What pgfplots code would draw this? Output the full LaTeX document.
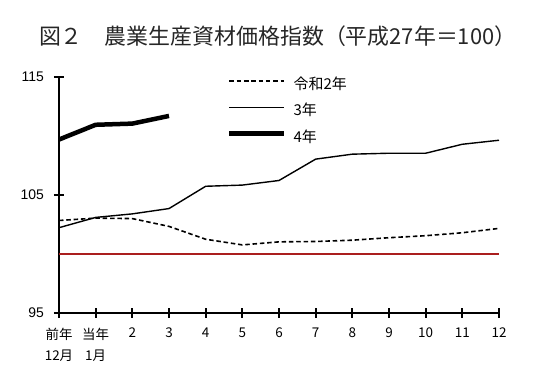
\documentclass[border=0pt]{standalone}
\usepackage{fontspec}
\setmainfont{Liberation Sans}
\newfontfamily\cjk{Noto Sans CJK JP}
\usepackage{pgfplots}
\pgfplotsset{compat=1.18}
\definecolor{refline}{RGB}{170,30,30}
\begin{document}
\begin{tikzpicture}
\useasboundingbox (0,0) rectangle (550bp,372bp);
\node[font=\cjk\fontsize{22}{26}\selectfont, text=black!85] at (277.7bp,336bp) {図２　農業生産資材価格指数（平成27年＝100）};
\begin{axis}[
  at={(59bp,59bp)}, anchor=south west,
  scale only axis, width=440bp, height=236bp,
  xmin=0, xmax=12, ymin=95, ymax=115,
  axis lines=left,
  axis line style={line width=2.8bp, black, -},
  xtick={0,...,12},
  xticklabels={{前年\\12月},{当年\\1月},2,3,4,5,6,7,8,9,10,11,12},
  ytick={95,105,115},
  major tick style={black, line width=1.8bp},
  major tick length=10bp,
  xticklabel style={font=\cjk\fontsize{13.5}{21}\selectfont, align=center, anchor=north, inner sep=0pt, yshift=-10bp},
  yticklabel style={font=\fontsize{14}{16}\selectfont, anchor=east, inner sep=0pt, xshift=-10bp},
  /pgf/number format/assume math mode=true,
  clip=false,
  legend style={draw=none, fill=none, at={(rel axis cs:0.3818,1.0)}, anchor=north west, inner sep=0pt, row sep=12bp,
    font=\cjk\fontsize{15}{17}\selectfont, nodes={inner sep=0pt},
    /tikz/every odd column/.append style={column sep=7bp}},
  legend image code/.code={\draw[#1] (0bp,0.3em) -- (55bp,0.3em);},
]
\addplot[black, line width=1.6bp, dash pattern=on 4.5bp off 2.8bp, line join=round] coordinates {
(0,102.84) (1,103.04) (2,103.0) (3,102.34) (4,101.25) (5,100.77) (6,101.03)
(7,101.06) (8,101.17) (9,101.38) (10,101.55) (11,101.8) (12,102.17)};
\addlegendentry{\makebox[50bp][l]{令和2年}}
\addplot[black, line width=1.4bp, line join=round] coordinates {
(0,102.23) (1,103.1) (2,103.4) (3,103.85) (4,105.74) (5,105.84) (6,106.23)
(7,108.04) (8,108.46) (9,108.54) (10,108.54) (11,109.3) (12,109.64)};
\addlegendentry{\makebox[50bp][l]{3年}}
\addplot[black, line width=4.5bp, line join=round] coordinates {
(0,109.7) (1,110.95) (2,111.05) (3,111.7)};
\addlegendentry{\makebox[50bp][l]{4年}}
\addplot[refline, line width=1.3bp, forget plot] coordinates {(0,100) (12,100)};
\end{axis}
\end{tikzpicture}
\end{document}
